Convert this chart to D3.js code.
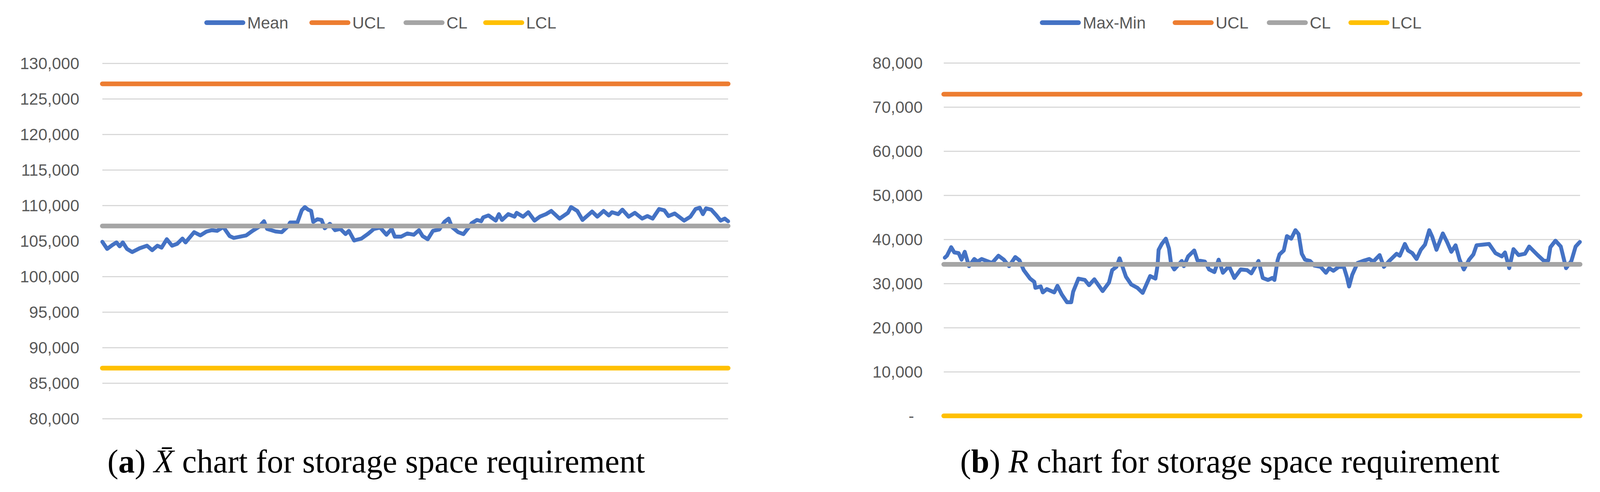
<!DOCTYPE html>
<html>
<head>
<meta charset="utf-8">
<script src="https://cdn.jsdelivr.net/npm/d3@7/dist/d3.min.js"></script>
<style>
body { margin: 0; background: #fff; }
svg { display: block; }
</style>
</head>
<body>
<svg id="chart" width="4100" height="1260"></svg>
<script>
// X-bar chart: sample number (0-300) and mean value
let meanSample = [0,2.3,4.8,6.8,8.3,9.8,11.8,14.3,17.9,21.4,23.9,26.4,28.4,30.9,33.4,35.9,38.4,39.9,44,47,50,52.5,55,58,61,63,66,69,72,75,77.5,79,83,86,89,90,93.5,95.6,97.1,98.6,100.1,101.1,103.1,105.1,106.6,109.1,111.6,114.1,116.6,118.2,120.7,124.2,127.2,130.2,133.2,136.2,138.7,140.2,143.2,146.2,149.3,151.8,153.5,156,158.5,161.5,164,166,167.6,170.6,173.1,175.1,177.1,179.6,181.6,182.6,185.1,188.6,190.1,191.6,194.6,197.6,198.6,201.7,204.2,207.2,209.7,212.7,215.2,219.2,223.2,224.7,227.7,230.2,234.8,237.3,240.3,242.8,244.3,247.3,249.3,252.3,255.3,258.8,261.3,263.8,266.9,269.4,271.4,274.4,278.9,281.9,284.4,286.4,287.9,289.4,291.9,294.4,296.4,298.4,300];
let meanValue = [104880,103880,104420,104790,104240,104790,103880,103430,103970,104330,103700,104330,104060,105240,104330,104600,105330,104790,106230,105780,106330,106510,106420,106960,105690,105420,105600,105780,106420,106960,107770,106690,106330,106230,107050,107590,107590,109310,109760,109400,109220,107680,108050,107950,106780,107410,106510,106690,105960,106420,105060,105330,105960,106690,106870,105870,106690,105600,105600,106050,105870,106510,105690,105240,106420,106600,107680,108140,106960,106230,105960,106690,107500,107950,107770,108320,108590,107860,108770,107950,108770,108410,108950,108410,109040,107860,108410,108770,109220,108140,108950,109760,109220,107950,109130,108410,109220,108590,109040,108770,109400,108410,108950,108140,108500,108140,109490,109310,108500,108860,107860,108410,109490,109670,108770,109580,109400,108590,107860,108140,107770];
let xUCL = 127100, xCL = 107100, xLCL = 87100;
let xTicks = [80000,85000,90000,95000,100000,105000,110000,115000,120000,125000,130000];

// R chart: sample number and max-min value
let rangeSample = [0.5,1.5,3.5,5,7,8.4,9.9,11.9,14.4,15.9,17.9,20.3,22.8,25.8,28.3,30.8,33.7,35.7,37.7,40.7,42.7,43.2,45.7,46.7,48.6,52.1,53.6,55.6,58.1,60.1,61,63.5,66.5,68.5,71,74.9,77.9,79.4,81.4,82.9,85.9,88.4,91.3,93.8,97.3,99.8,100.8,101.3,102.8,104.7,106.2,107.2,108.7,112.2,113.2,115.2,118.1,119.6,123.1,125.1,127.6,129.6,131.6,134.5,137,140,143,145,148.4,150.4,152.9,154.9,155.9,157.4,158.3,160.3,161.8,163.8,165.8,167.3,168.8,170.3,172.7,174.7,177.7,180.2,181.7,183.7,186.2,188.6,190.1,191.1,192.6,195.1,197.6,200.6,202.5,205.5,207.5,210,213.5,215,217.4,218.9,220.9,222.9,224.9,226.9,228.9,230.3,232.3,235.3,237.3,239.3,241.3,243.2,245.2,247.7,249.7,251.2,254.2,257.1,260.1,263.1,264.6,266.6,268.6,271,274,276,280,283,285,286,288.4,290.9,293.4,295.9,297.9,299.9];
let rangeValue = [35850,36290,38220,37030,36880,35400,37180,33920,35550,34960,35550,35100,34660,36290,35400,33920,35990,35250,33030,31100,30360,29020,29320,27980,28730,27980,29470,27540,25760,25760,28130,31100,30800,29620,30950,28280,30210,33030,33770,35700,31540,29770,29020,27870,31690,31100,34070,37630,38960,40150,37920,34360,33180,35100,33920,36140,37480,35250,34960,33180,32580,35400,32430,33920,31250,33180,33030,32290,35100,31250,30800,31250,30800,35250,36590,37480,40740,40150,42080,41190,36730,35400,35100,34070,33770,32430,33470,32880,33770,33770,31400,29320,31990,34660,35100,35550,34960,36440,33770,35100,36730,36290,38960,37480,36880,35550,37630,38810,42080,40590,37630,41340,39410,37180,38660,35400,33180,35400,36590,38660,38810,38960,36880,36140,37030,33470,37780,36440,36730,38370,36440,35100,35250,38220,39700,38370,33470,35100,38370,39410];
let rUCL = 72900, rCL = 34340, rLCL = 0;
let rTicks = [0,10000,20000,30000,40000,50000,60000,70000,80000];

let colors = { series: "#4472C4", ucl: "#ED7D31", cl: "#A5A5A5", lcl: "#FFC000" };

let svg = d3.select("#chart");
let fmt = d3.format(",");

function panel(o) {
	let g = svg.append("g");
	let x = d3.scaleLinear().domain([0, 300]).range([o.x0, o.x1]);
	let y = d3.scaleLinear().domain(o.domain).range([o.y0, o.y1]);

	// gridlines + tick labels via axis
	let ax = d3.axisLeft(y).tickValues(o.ticks).tickSize(-(o.x1 - o.x0)).tickPadding(o.pad)
		.tickFormat(d => d === 0 ? "-" : fmt(d));
	let ag = g.append("g").attr("transform", "translate(" + o.x0 + ",0)").call(ax);
	ag.select(".domain").remove();
	ag.selectAll(".tick line").attr("stroke", "#d9d9d9").attr("stroke-width", 3);
	ag.selectAll(".tick text").attr("fill", "#595959").attr("font-family", "Liberation Sans, Arial, sans-serif").attr("font-size", 42).attr("dy", "0.35em");
	ag.selectAll(".tick text").filter(d => d === 0).attr("dx", -22);

	let line = d3.line().x(d => x(d[0])).y(d => y(d[1]));
	let pts = o.samples.map((s, i) => [s, o.values[i]]);
	g.append("path").datum(pts).attr("d", line).attr("fill", "none")
		.attr("stroke", colors.series).attr("stroke-width", 10).attr("stroke-linejoin", "round").attr("stroke-linecap", "round");
	// limit lines; grey centre line drawn last so it sits over the series
	[[o.ucl, colors.ucl], [o.lcl, colors.lcl], [o.cl, colors.cl]].forEach(l => {
		g.append("path").datum([[0, l[0]], [300, l[0]]]).attr("d", line)
			.attr("stroke", l[1]).attr("stroke-width", 12).attr("stroke-linecap", "round");
	});

	// legend
	let items = [[o.name, colors.series], ["UCL", colors.ucl], ["CL", colors.cl], ["LCL", colors.lcl]];
	let lg = g.append("g");
	items.forEach((it, i) => {
		let lx = o.legend[i];
		lg.append("line").attr("x1", lx + 6).attr("x2", lx + 99).attr("y1", 58).attr("y2", 58)
			.attr("stroke", it[1]).attr("stroke-width", 12).attr("stroke-linecap", "round");
		lg.append("text").attr("x", lx + 110).attr("y", 58).attr("dy", "0.35em").text(it[0])
			.attr("fill", "#595959").attr("font-family", "Liberation Sans, Arial, sans-serif").attr("font-size", 42);
	});

	// caption
	let cap = g.append("text").attr("x", o.capX).attr("y", 1210)
		.attr("font-family", "Liberation Serif, DejaVu Serif, serif").attr("font-size", 84).attr("fill", "#000");
	cap.append("tspan").text("(");
	cap.append("tspan").attr("font-weight", "bold").text(o.letter);
	cap.append("tspan").text(")  ");
	cap.append("tspan").attr("font-style", "italic").text(o.sym);
	cap.append("tspan").text("  chart for storage space requirement");
}

panel({ x0: 262, x1: 1864, y0: 1072, y1: 162, domain: [80000, 130000], ticks: xTicks, pad: 59,
	samples: meanSample, values: meanValue, ucl: xUCL, cl: xCL, lcl: xLCL, name: "Mean",
	legend: [523, 792, 1033, 1237], capX: 275, letter: "a", sym: "X\u0304" });
panel({ x0: 2416, x1: 4045, y0: 1065, y1: 161, domain: [0, 80000], ticks: rTicks, pad: 54,
	samples: rangeSample, values: rangeValue, ucl: rUCL, cl: rCL, lcl: rLCL, name: "Max-Min",
	legend: [2662, 3002, 3243, 3452], capX: 2458, letter: "b", sym: "R" });
</script>
</body>
</html>
